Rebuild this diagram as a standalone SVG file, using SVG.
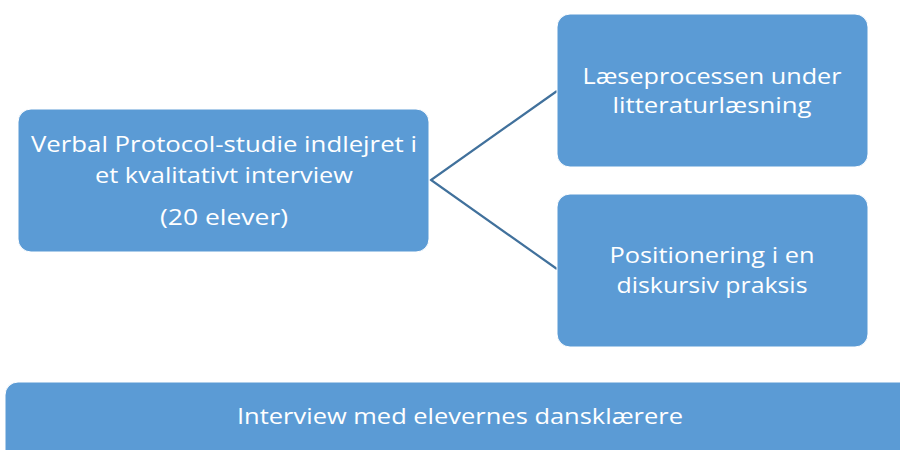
<svg xmlns="http://www.w3.org/2000/svg" width="900" height="450" viewBox="0 0 900 450">
  <style>
    .box { fill: #5B9BD5; stroke: #FFFFFF; stroke-width: 1; }
    .lbl { font-family: "Open Sans", "Liberation Sans", sans-serif; font-size: 22px; fill: #FFFFFF; text-anchor: middle; }
    .link { stroke: #41719C; stroke-width: 2.2; fill: none; }
  </style>
  <rect width="900" height="450" fill="#FFFFFF"/>
  <g id="connectors">
    <polyline class="link" points="557,91 431,180 557,269"/>
  </g>
  <g id="study">
    <rect class="box" x="18" y="109" width="411" height="143" rx="13"/>
    <text class="lbl" x="224" y="152" textLength="386" lengthAdjust="spacingAndGlyphs">Verbal Protocol-studie indlejret i</text>
    <text class="lbl" x="224" y="183" textLength="258" lengthAdjust="spacingAndGlyphs">et kvalitativt interview</text>
    <text class="lbl" x="224" y="225" textLength="128" lengthAdjust="spacingAndGlyphs">(20 elever)</text>
  </g>
  <g id="reading">
    <rect class="box" x="557" y="14" width="311" height="153" rx="13"/>
    <text class="lbl" x="712" y="84" textLength="259" lengthAdjust="spacingAndGlyphs">Læseprocessen under</text>
    <text class="lbl" x="712" y="113" textLength="199" lengthAdjust="spacingAndGlyphs">litteraturlæsning</text>
  </g>
  <g id="positioning">
    <rect class="box" x="557" y="194" width="311" height="153" rx="13"/>
    <text class="lbl" x="712" y="263" textLength="205" lengthAdjust="spacingAndGlyphs">Positionering i en</text>
    <text class="lbl" x="712" y="293" textLength="191" lengthAdjust="spacingAndGlyphs">diskursiv praksis</text>
  </g>
  <g id="teachers">
    <rect class="box" x="5" y="382" width="910" height="90" rx="13"/>
    <text class="lbl" x="460" y="424" textLength="446" lengthAdjust="spacingAndGlyphs">Interview med elevernes dansklærere</text>
  </g>
</svg>
